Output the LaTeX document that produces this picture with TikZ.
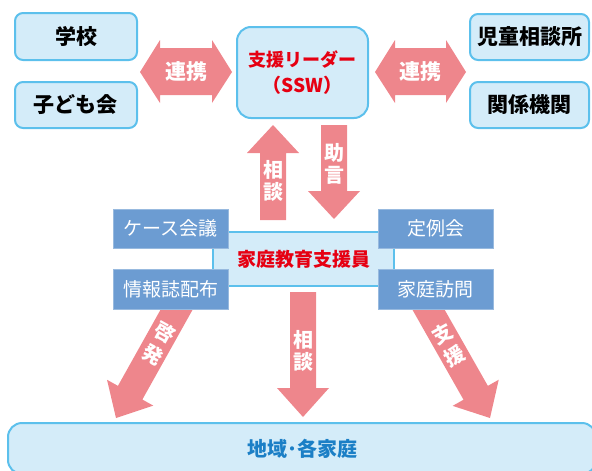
\documentclass[tikz,border=0pt]{standalone}
\usepackage{fontspec}
\setmainfont{Noto Sans CJK JP}
\usetikzlibrary{calc}
\definecolor{lblue}{HTML}{D4ECF9}
\definecolor{bblue}{HTML}{5CC0EC}
\definecolor{pinkA}{HTML}{EE868C}
\definecolor{steel}{HTML}{6C9CD2}
\definecolor{redT}{HTML}{E60012}
\definecolor{blueT}{HTML}{1B7FC6}
\newcommand{\fatarrow}[5]{%
  \coordinate (fa-h) at ($(#2)!#5!(#1)$);
  \fill[pinkA] ($(#1)!#3!90:(#2)$) -- ($(fa-h)!#3!90:(#2)$) -- ($(fa-h)!#4!90:(#2)$) -- (#2)
     -- ($(fa-h)!#4!-90:(#2)$) -- ($(fa-h)!#3!-90:(#2)$) -- ($(#1)!#3!-90:(#2)$) -- cycle;}
\tikzset{
  lbox/.style={draw=bblue, fill=lblue, line width=2pt, rounded corners=8pt, inner sep=0pt,
     font=\bfseries\fontsize{21}{24}\selectfont},
  sbox/.style={fill=steel, draw=steel!70!white, line width=0.6pt, inner sep=0pt, text=white,
     font=\fontsize{19}{22}\selectfont},
  wtext/.style={text=white, inner sep=0pt, align=center, font=\bfseries\fontsize{20}{22}\selectfont},
  wchar/.style={text=white, inner sep=0pt, font=\bfseries\fontsize{20}{22}\selectfont},
}
\begin{document}
\begin{tikzpicture}[x=1pt, y=-1pt]
\path[use as bounding box] (0,0) rectangle (592,471);
\clip (0,0) rectangle (592,471);

% arrow end points
\coordinate (upT) at (273,220);
\coordinate (upH) at (273,125);
\coordinate (adT) at (334,125);
\coordinate (adH) at (334,219);
\coordinate (dnT) at (303,292);
\coordinate (dnH) at (303,417);
\coordinate (lfT) at (182,300);
\coordinate (lfH) at (116,418);
\coordinate (rtT) at (423,300);
\coordinate (rtH) at (490,418);

% fat arrows
\fatarrow{upT}{upH}{13pt}{26pt}{28pt}
\fatarrow{adT}{adH}{13pt}{26pt}{28pt}
\fatarrow{dnT}{dnH}{13pt}{26pt}{29pt}
\fatarrow{lfT}{lfH}{14pt}{26.5pt}{29pt}
\fatarrow{rtT}{rtH}{14pt}{26.5pt}{29pt}

% double arrows
\fill[pinkA] (140,72) -- (160,40) -- (160,48) -- (212,48) -- (212,40) -- (232,72)
  -- (212,103) -- (212,95) -- (160,95) -- (160,103) -- cycle;
\fill[pinkA] (375,72) -- (395,40) -- (395,48) -- (446,48) -- (446,40) -- (466,72)
  -- (446,103) -- (446,95) -- (395,95) -- (395,103) -- cycle;
\node[wtext, font=\bfseries\fontsize{21}{22}\selectfont] (r1) at (186,72) {連携};
\node[wtext, font=\bfseries\fontsize{21}{22}\selectfont] (r2) at (420.5,72) {連携};

% arrow labels
\node[wtext] (t1) at (273,181) {相\\談};
\node[wtext] (t2) at (334,164) {助\\言};
\node[wtext] (t3) at (303,351) {相\\談};
\node[wchar, rotate=-29] (t4a) at (165.1,333.1) {啓};
\node[wchar, rotate=-29] (t4b) at (152.9,354.9) {発};
\node[wchar, rotate=29] (t5a) at (442.1,334.2) {支};
\node[wchar, rotate=29] (t5b) at (454.5,355.9) {援};

% top boxes
\node[lbox, minimum width=122, minimum height=47] (school) at (76,36.5) {学校};
\node[lbox, minimum width=122, minimum height=46] (kodomo) at (76,105) {子ども会};
\node[lbox, minimum width=119, minimum height=46] (jido) at (529.5,37) {児童相談所};
\node[lbox, minimum width=119, minimum height=46] (kankei) at (529.5,105) {関係機関};
\node[lbox, rounded corners=14pt, minimum width=131, minimum height=91, text=redT, align=center,
  font=\bfseries\fontsize{18}{26}\selectfont] (ssw) at (302.5,72.5) {支援リーダー\\{\fontsize{19}{26}\selectfont （SSW）}};

% middle
\node[draw=bblue, fill=lblue, line width=1.5pt, minimum width=181, minimum height=54, inner sep=0pt,
  text=redT, font=\bfseries\fontsize{19}{22}\selectfont] (mid) at (303.5,259) {家庭教育支援員};
\node[sbox, minimum width=115, minimum height=39] (case) at (170.5,228.5) {ケース会議};
\node[sbox, minimum width=115, minimum height=39] (teirei) at (435.5,228.5) {定例会};
\node[sbox, minimum width=115, minimum height=40] (joho) at (170.5,289) {情報誌配布};
\node[sbox, minimum width=115, minimum height=40] (katei) at (435.5,289) {家庭訪問};

% bottom
\node[lbox, rounded corners=14pt, minimum width=588, minimum height=51, text=blueT,
  font=\bfseries\fontsize{20}{24}\selectfont] (chiiki) at (302,448.5) {地域･各家庭};
\end{tikzpicture}
\end{document}
